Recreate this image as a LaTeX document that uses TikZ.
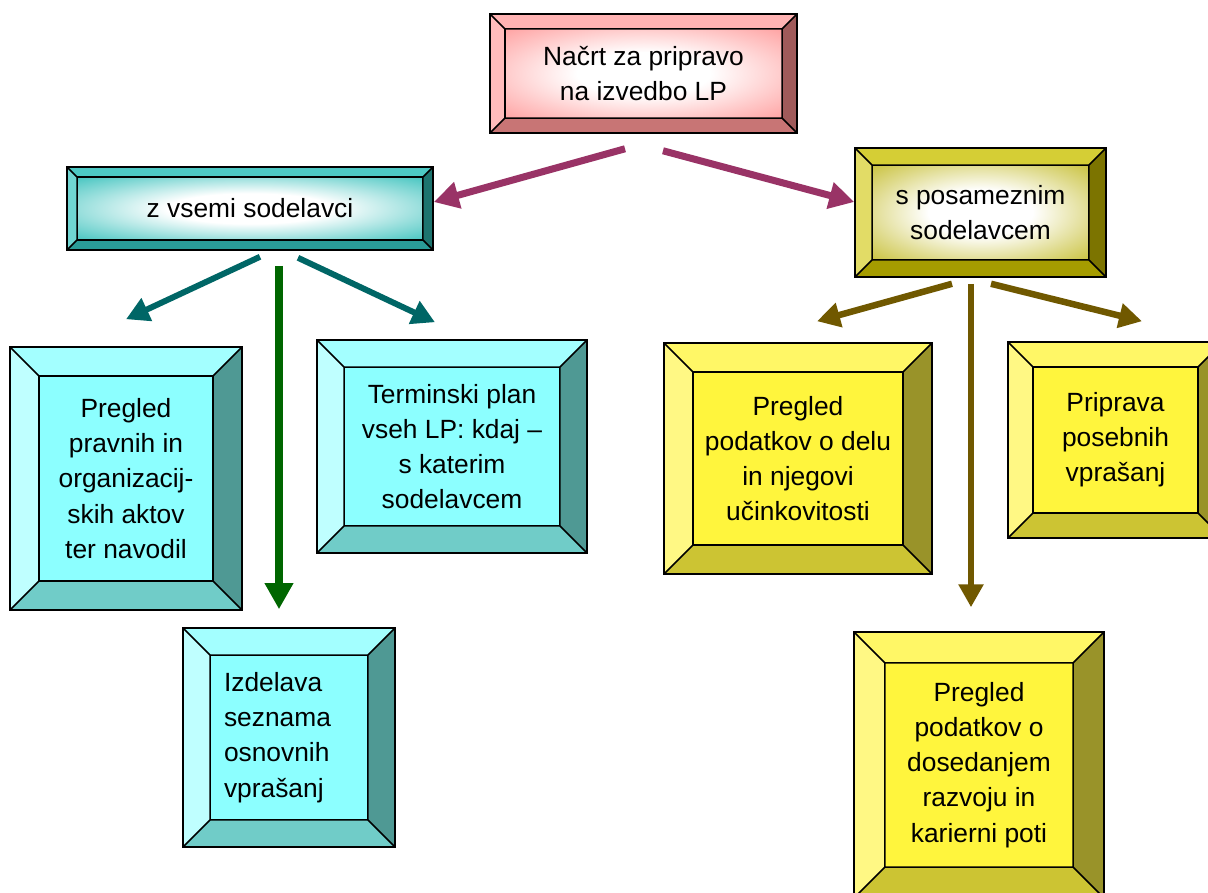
\documentclass[tikz,border=0pt]{standalone}
\usepackage{fontspec}
\setmainfont{Liberation Sans}
\usetikzlibrary{arrows.meta}

% barve
\definecolor{pinkMid}{HTML}{FF9999}
\definecolor{pinkTop}{HTML}{FFB3B3}
\definecolor{pinkLeft}{HTML}{FFBBBB}
\definecolor{pinkBot}{HTML}{C87575}
\definecolor{pinkRight}{HTML}{A05A5A}
\definecolor{tealMid}{HTML}{33BFBA}
\definecolor{tealTop}{HTML}{4DC9C4}
\definecolor{tealLeft}{HTML}{70D6D2}
\definecolor{tealBot}{HTML}{2A9C98}
\definecolor{tealRight}{HTML}{1D746F}
\definecolor{oliveMid}{HTML}{C4BC2C}
\definecolor{oliveTop}{HTML}{D5CE35}
\definecolor{oliveLeft}{HTML}{E2DC66}
\definecolor{oliveBot}{HTML}{A59C00}
\definecolor{oliveRight}{HTML}{7C7400}
\definecolor{cyanMid}{HTML}{8CFFFF}
\definecolor{cyanTop}{HTML}{A3FFFF}
\definecolor{cyanLeft}{HTML}{BFFFFF}
\definecolor{cyanBot}{HTML}{70CCC8}
\definecolor{cyanRight}{HTML}{4F9994}
\definecolor{yelMid}{HTML}{FFF53D}
\definecolor{yelTop}{HTML}{FFF766}
\definecolor{yelLeft}{HTML}{FFF884}
\definecolor{yelBot}{HTML}{CCC433}
\definecolor{yelRight}{HTML}{999329}
\definecolor{magC}{HTML}{993366}
\definecolor{tealC}{HTML}{006666}
\definecolor{greenC}{HTML}{006600}
\definecolor{brownC}{RGB}{112,88,0}
\colorlet{glowC}{white}

% svetla sredina
\pgfdeclareradialshading[glowC]{glow}{\pgfpoint{0bp}{0bp}}{%
  color(0bp)=(white); color(12bp)=(white); color(26bp)=(white!45!glowC);
  color(38bp)=(glowC); color(50bp)=(glowC)}

\tikzset{
  glow/.code={\colorlet{glowC}{#1}},
  % okvir s poševnimi robovi: #1 rob, #2 sredina, #3-#6 zgoraj, levo, spodaj, desno
  bevel/.style n args={6}{
    path picture={
      \path (path picture bounding box.north west) coordinate (o1)
            (path picture bounding box.north east) coordinate (o2)
            (path picture bounding box.south east) coordinate (o3)
            (path picture bounding box.south west) coordinate (o4)
            ([shift={(#1,-#1)}]o1) coordinate (i1)
            ([shift={(-#1,-#1)}]o2) coordinate (i2)
            ([shift={(-#1,#1)}]o3) coordinate (i3)
            ([shift={(#1,#1)}]o4) coordinate (i4);
      \fill[#3] (o1) -- (o2) -- (i2) -- (i1) -- cycle;
      \fill[#4] (o1) -- (i1) -- (i4) -- (o4) -- cycle;
      \fill[#5] (o4) -- (i4) -- (i3) -- (o3) -- cycle;
      \fill[#6] (o2) -- (o3) -- (i3) -- (i2) -- cycle;
      \path[#2] (i1) rectangle (i3);
      \draw[line width=0.9pt] (i1) rectangle (i3)
        (o1) -- (i1) (o2) -- (i2) (o3) -- (i3) (o4) -- (i4);
    }
  },
  plate/.style={draw, line width=0.9pt, inner sep=0pt, align=center,
    font=\fontsize{15}{20}\selectfont},
  pinkbox/.style={plate, bevel={#1}{glow=pinkMid, shading=glow, shade}{pinkTop}{pinkLeft}{pinkBot}{pinkRight}},
  tealbox/.style={plate, bevel={#1}{glow=tealMid, shading=glow, shade}{tealTop}{tealLeft}{tealBot}{tealRight}},
  olivebox/.style={plate, bevel={#1}{glow=oliveMid, shading=glow, shade}{oliveTop}{oliveLeft}{oliveBot}{oliveRight}},
  cyanbox/.style={plate, bevel={#1}{fill=cyanMid}{cyanTop}{cyanLeft}{cyanBot}{cyanRight}},
  yelbox/.style={plate, bevel={#1}{fill=yelMid}{yelTop}{yelLeft}{yelBot}{yelRight}},
  magarrow/.style={draw=magC, line width=4pt, -{Triangle[width=0.52cm,length=0.5cm]}},
  tealarrow/.style={draw=tealC, line width=3.4pt, -{Triangle[width=0.48cm,length=0.46cm]}},
  greenarrow/.style={draw=greenC, line width=4.3pt, -{Triangle[width=0.54cm,length=0.52cm]}},
  brownarrow/.style={draw=brownC, line width=3.7pt, -{Triangle[width=0.48cm,length=0.46cm]}}
}

\begin{document}
\begin{tikzpicture}[x=0.02cm, y=-0.02cm]
  \useasboundingbox (0,0) rectangle (1208,893);
  \clip (0,0) rectangle (1208,893);

  % vrh
  \node[pinkbox=8.5pt, minimum width=6.14cm, minimum height=2.38cm] (plan) at (643.5,73.5)
    {Načrt za pripravo\\na izvedbo LP};

  % druga raven
  \node[tealbox=5.7pt, minimum width=7.32cm, minimum height=1.66cm] (vsi) at (250,208.5)
    {z vsemi sodelavci};
  \node[olivebox=9.7pt, minimum width=5.02cm, minimum height=2.58cm] (posam) at (980.5,212.5)
    {s posameznim\\sodelavcem};

  % leva veja
  \node[cyanbox=16.5pt, minimum width=4.64cm, minimum height=5.26cm] (pravni) at (126,478.5)
    {Pregled\\pravnih in\\organizacij-\\skih aktov\\ter navodil};
  \node[cyanbox=15.4pt, minimum width=5.4cm, minimum height=4.26cm] (termin) at (452,446.5)
    {Terminski plan\\vseh LP: kdaj –\\s katerim\\sodelavcem};
  \node[cyanbox=15.4pt, minimum width=4.24cm, minimum height=4.38cm,
    align=left, text width=2.6cm] (izdel) at (289,737.5)
    {Izdelava\\seznama\\osnovnih\\vprašanj};

  % desna veja
  \node[yelbox=16.5pt, minimum width=5.36cm, minimum height=4.62cm] (delo) at (798,458.5)
    {Pregled\\podatkov o delu\\in njegovi\\učinkovitosti};
  \node[yelbox=14.2pt, minimum width=4.3cm, minimum height=3.92cm] (pripr) at (1115.5,440)
    {Priprava\\posebnih\\vprašanj};
  \node[yelbox=17.6pt, minimum width=5cm, minimum height=5.32cm] (dosed) at (979,765)
    {Pregled\\podatkov o\\dosedanjem\\razvoju in\\karierni poti};

  % puščice
  \draw[magarrow] ([xshift=-0.37cm,yshift=-0.3cm]plan.south) -- ([yshift=0.13cm]vsi.east);
  \draw[magarrow] ([xshift=0.39cm,yshift=-0.34cm]plan.south) -- ([yshift=0.21cm]posam.west);

  \draw[tealarrow] ([xshift=0.2cm,yshift=-0.12cm]vsi.south) -- ([yshift=0.54cm]pravni.north);
  \draw[tealarrow] ([xshift=0.96cm,yshift=-0.14cm]vsi.south) -- ([xshift=-0.34cm,yshift=0.34cm]termin.north);
  \draw[greenarrow, shorten >=0.36cm] ([xshift=0.58cm,yshift=-0.3cm]vsi.south) -- ([xshift=0.58cm]vsi.south |- izdel.north);

  \draw[brownarrow] ([xshift=-0.57cm,yshift=-0.12cm]posam.south) -- ([xshift=0.38cm,yshift=0.42cm]delo.north);
  \draw[brownarrow] ([xshift=0.21cm,yshift=-0.12cm]posam.south) -- ([xshift=0.53cm,yshift=0.4cm]pripr.north);
  \draw[brownarrow, shorten >=0.48cm] ([xshift=-0.19cm,yshift=-0.12cm]posam.south) -- ([xshift=-0.19cm]posam.south |- dosed.north);

\end{tikzpicture}
\end{document}
